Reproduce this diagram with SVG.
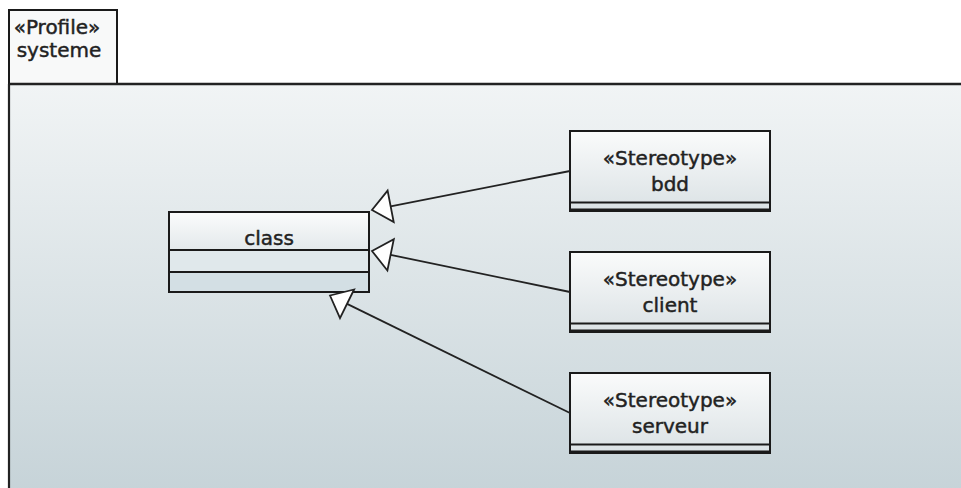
<svg xmlns="http://www.w3.org/2000/svg" width="961" height="488" viewBox="0 0 961 488">
  <defs>
    <linearGradient id="pkgBody" x1="0" y1="0" x2="0" y2="1">
      <stop offset="0" stop-color="#f1f4f5"/>
      <stop offset="1" stop-color="#c6d3d8"/>
    </linearGradient>
    <linearGradient id="nameFill" x1="0" y1="0" x2="0" y2="1">
      <stop offset="0" stop-color="#fbfcfc"/>
      <stop offset="1" stop-color="#e3e9eb"/>
    </linearGradient>
    <linearGradient id="stereoFill" x1="0" y1="0" x2="0" y2="1">
      <stop offset="0" stop-color="#fafbfb"/>
      <stop offset="1" stop-color="#dbe2e5"/>
    </linearGradient>
    <style>
      .edge { stroke: #222222; stroke-width: 1.8; fill: none; }
      .head { stroke: #222222; stroke-width: 1.8; fill: #ffffff; stroke-linejoin: miter; }
      .box { stroke: #1a1a1a; stroke-width: 2; }
      .sep { stroke: #1a1a1a; stroke-width: 2; }
      .lbl { font-family: "DejaVu Sans", "Noto Sans", sans-serif; font-size: 20px; fill: #222222; stroke: #222222; stroke-width: 0.45; text-anchor: middle; }
    </style>
  </defs>

  <rect x="0" y="0" width="961" height="488" fill="#ffffff"/>

  <!-- package "systeme" -->
  <g id="profile-systeme">
    <rect x="9" y="84" width="960" height="410" fill="url(#pkgBody)"/>
    <rect x="9" y="10" width="108" height="74" fill="#f8f9f9" class="box"/>
    <line x1="9" y1="84" x2="961" y2="84" stroke="#222222" stroke-width="2.4"/>
    <line x1="9" y1="84" x2="9" y2="488" stroke="#222222" stroke-width="2.2"/>
    <text class="lbl" x="57" y="34">«Profile»</text>
    <text class="lbl" x="59" y="57">systeme</text>
  </g>

  <!-- metaclass -->
  <g id="class">
    <rect x="169" y="212" width="200" height="38" fill="url(#nameFill)"/>
    <rect x="169" y="250" width="200" height="22" fill="#e0e8eb"/>
    <rect x="169" y="272" width="200" height="20" fill="#d3dfe4"/>
    <rect x="169" y="212" width="200" height="80" fill="none" class="box"/>
    <line x1="169" y1="250" x2="369" y2="250" class="sep"/>
    <line x1="169" y1="272" x2="369" y2="272" class="sep"/>
    <text class="lbl" x="269" y="245">class</text>
  </g>

  <!-- stereotypes -->
  <g id="bdd">
    <rect x="570" y="131" width="200" height="80" fill="url(#stereoFill)" class="box"/>
    <line x1="570" y1="202.5" x2="770" y2="202.5" class="sep"/>
    <line x1="570" y1="209.5" x2="770" y2="209.5" class="sep"/>
    <text class="lbl" x="670" y="165">«Stereotype»</text>
    <text class="lbl" x="670" y="191">bdd</text>
  </g>

  <g id="client">
    <rect x="570" y="252" width="200" height="80" fill="url(#stereoFill)" class="box"/>
    <line x1="570" y1="323.5" x2="770" y2="323.5" class="sep"/>
    <line x1="570" y1="330.5" x2="770" y2="330.5" class="sep"/>
    <text class="lbl" x="670" y="286">«Stereotype»</text>
    <text class="lbl" x="670" y="312">client</text>
  </g>

  <g id="serveur">
    <rect x="570" y="373" width="200" height="80" fill="url(#stereoFill)" class="box"/>
    <line x1="570" y1="444.5" x2="770" y2="444.5" class="sep"/>
    <line x1="570" y1="451.5" x2="770" y2="451.5" class="sep"/>
    <text class="lbl" x="670" y="407">«Stereotype»</text>
    <text class="lbl" x="670" y="433">serveur</text>
  </g>

  <!-- generalizations -->
  <g id="connectors">
    <line class="edge" x1="570" y1="171" x2="390.6" y2="206.3"/>
    <polygon class="head" points="372,210 393.7,222.0 387.6,190.6"/>
    <line class="edge" x1="570" y1="292" x2="390.6" y2="254.9"/>
    <polygon class="head" points="372,251 387.4,270.5 393.8,239.2"/>
    <line class="edge" x1="570" y1="413" x2="347.1" y2="303.9"/>
    <polygon class="head" points="330,295.5 340.0,318.2 354.1,289.5"/>
  </g>
</svg>
